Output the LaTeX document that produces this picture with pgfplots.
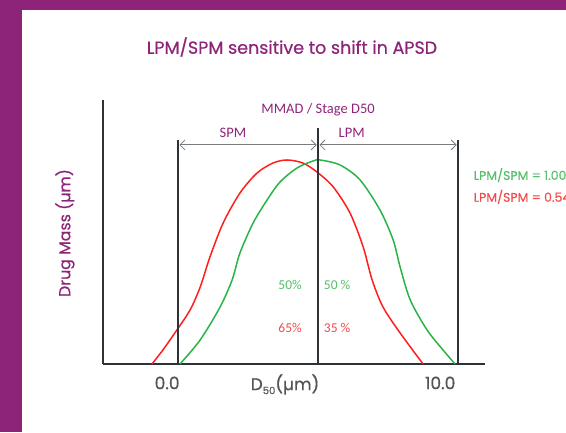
\documentclass[border=0pt]{standalone}
\usepackage{pgfplots}
\pgfplotsset{compat=1.18}
\usetikzlibrary{arrows.meta}
\usepackage{fontspec}
\setmainfont{Poppins}[UprightFeatures={FakeBold=0.5}]
\newfontfamily\calfont{Carlito}
\definecolor{brandpurple}{RGB}{142,36,121}
\definecolor{axisgray}{RGB}{45,50,55}
\definecolor{cgreen}{RGB}{40,180,70}
\definecolor{cred}{RGB}{255,30,30}
\definecolor{tgreen}{RGB}{85,190,105}
\definecolor{tred}{RGB}{242,75,75}
\definecolor{arrowgray}{RGB}{120,125,130}
\definecolor{ticktext}{RGB}{85,85,85}
\begin{document}
\begin{tikzpicture}[x=1pt,y=1pt]
\path[use as bounding box] (0,0) rectangle (566,432);
\clip (0,0) rectangle (566,432);
\fill[brandpurple] (0,0) rectangle (22,432);
\fill[brandpurple] (0,422) rectangle (566,432);
\node[text=brandpurple, font=\fontsize{17.5}{20}\selectfont] at (292,385) {LPM/SPM sensitive to shift in APSD};
\node[text=brandpurple, rotate=90, font=\fontsize{15.8}{18}\selectfont] at (65,199) {Drug Mass (µm)};
\begin{axis}[
  scale only axis, width=382pt, height=264pt,
  at={(103pt,68pt)}, anchor=south west,
  xmin=-2.68, xmax=10.96, ymin=0, ymax=1.294,
  axis lines=left, axis line style={axisgray, line width=2.5pt, -},
  ticks=none, clip=false
]
\addplot[cred, line width=1.5pt, smooth, tension=0.5] coordinates {
(-0.93,0) (-0.54,0.069) (-0.04,0.167) (0.43,0.265) (0.79,0.377) (1.14,0.525)
(1.61,0.691) (2.21,0.838) (2.82,0.936) (3.39,0.985) (3.89,1.0) (4.46,0.985)
(4.96,0.941) (5.54,0.868) (6.14,0.740) (6.61,0.574) (6.93,0.412) (7.32,0.279)
(7.93,0.152) (8.75,0)};
\addplot[cgreen, line width=1.5pt, smooth, tension=0.5] coordinates {
(0.07,0) (0.79,0.118) (1.5,0.279) (1.93,0.412) (2.21,0.544) (2.68,0.691)
(3.18,0.804) (3.64,0.892) (4.25,0.961) (4.82,0.995) (5.07,1.0) (5.79,0.975)
(6.5,0.902) (7.21,0.755) (7.68,0.608) (7.93,0.475) (8.29,0.314) (8.89,0.167)
(9.46,0.069) (9.89,0)};
\addplot[axisgray, line width=2.5pt] coordinates {(0,0) (0,1.098)};
\addplot[axisgray, line width=2.5pt] coordinates {(5,0) (5,1.157)};
\addplot[axisgray, line width=2.5pt] coordinates {(10,0) (10,1.098)};
\draw[arrowgray, line width=0.8pt, {Straight Barb[length=5pt]}-{Straight Barb[length=5pt]}] (axis cs:0.05,1.074) -- (axis cs:4.95,1.074);
\draw[arrowgray, line width=0.8pt, {Straight Barb[length=5pt]}-{Straight Barb[length=5pt]}] (axis cs:5.05,1.074) -- (axis cs:9.95,1.074);
\node[text=brandpurple, font=\calfont\fontsize{14.5}{16}\selectfont] at (axis cs:5,1.245) {MMAD / Stage D50};
\node[text=brandpurple, font=\calfont\fontsize{14.5}{16}\selectfont] at (axis cs:1.96,1.132) {SPM};
\node[text=brandpurple, font=\calfont\fontsize{14.5}{16}\selectfont] at (axis cs:6.2,1.132) {LPM};
\node[text=tgreen, font=\calfont\fontsize{13.5}{15}\selectfont] at (axis cs:4.0,0.387) {50\%};
\node[text=tgreen, font=\calfont\fontsize{13.5}{15}\selectfont] at (axis cs:5.68,0.387) {50 \%};
\node[text=tred, font=\calfont\fontsize{13.5}{15}\selectfont] at (axis cs:4.0,0.176) {65\%};
\node[text=tred, font=\calfont\fontsize{13.5}{15}\selectfont] at (axis cs:5.68,0.176) {35 \%};
\node[text=tgreen, anchor=west, inner sep=0pt, font=\fontsize{12.5}{14}\selectfont] at (axis cs:10.55,0.926) {LPM/SPM = 1.00};
\node[text=tred, anchor=west, inner sep=0pt, font=\fontsize{12.5}{14}\selectfont] at (axis cs:10.55,0.819) {LPM/SPM = 0.54};
\node[text=ticktext, font=\fontsize{17}{19}\selectfont] at (axis cs:-0.39,-0.093) {0.0};
\node[text=ticktext, font=\fontsize{17}{19}\selectfont] at (axis cs:9.36,-0.093) {10.0};
\node[text=ticktext, font=\fontsize{17}{19}\selectfont] at (axis cs:3.82,-0.100) {D\raisebox{-4pt}{\fontsize{10}{11}\selectfont 50}(µm)};
\end{axis}
\end{tikzpicture}
\end{document}
